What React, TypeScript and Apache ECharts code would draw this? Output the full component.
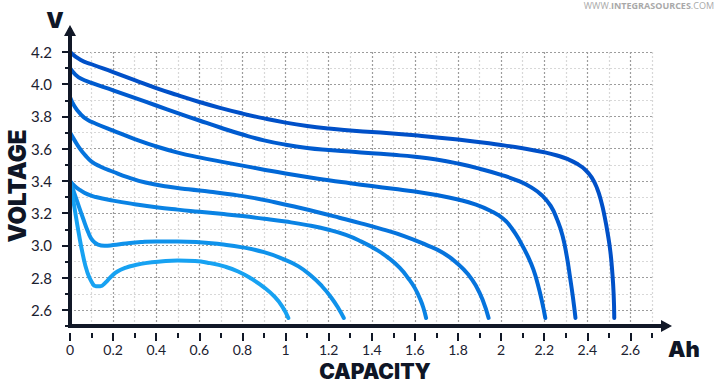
import React, { useEffect, useRef } from "react";
import * as echarts from "echarts";

const xMajorTicks = [0, 0.2, 0.4, 0.6, 0.8, 1, 1.2, 1.4, 1.6, 1.8, 2, 2.2, 2.4, 2.6];
const yMajorTicks = [2.6, 2.8, 3.0, 3.2, 3.4, 3.6, 3.8, 4.0, 4.2];

const curve1 = [[0, 4.2], [0.05, 4.15], [0.1, 4.124], [0.2, 4.075], [0.3, 4.025], [0.4, 3.976], [0.5, 3.932], [0.6, 3.89], [0.7, 3.852], [0.8, 3.818], [0.9, 3.788], [1.0, 3.762], [1.1, 3.741], [1.2, 3.725], [1.3, 3.713], [1.4, 3.703], [1.6, 3.683], [1.8, 3.657], [2.0, 3.623], [2.1, 3.603], [2.2, 3.578], [2.26, 3.558], [2.31, 3.535], [2.35, 3.508], [2.39, 3.47], [2.42, 3.422], [2.445, 3.355], [2.465, 3.27], [2.48, 3.18], [2.495, 3.07], [2.507, 2.96], [2.516, 2.83], [2.522, 2.7], [2.525, 2.55]];
const curve2 = [[0, 4.1], [0.025, 4.06], [0.05, 4.035], [0.1, 4.008], [0.2, 3.962], [0.3, 3.915], [0.4, 3.868], [0.5, 3.821], [0.6, 3.775], [0.7, 3.73], [0.8, 3.688], [0.9, 3.652], [1.0, 3.625], [1.1, 3.605], [1.2, 3.592], [1.3, 3.582], [1.4, 3.572], [1.5, 3.562], [1.6, 3.55], [1.7, 3.533], [1.8, 3.508], [1.9, 3.476], [2.0, 3.438], [2.08, 3.4], [2.14, 3.36], [2.19, 3.31], [2.23, 3.245], [2.26, 3.16], [2.285, 3.06], [2.305, 2.93], [2.32, 2.8], [2.333, 2.68], [2.345, 2.55]];
const curve3 = [[0, 3.92], [0.02, 3.865], [0.045, 3.82], [0.08, 3.78], [0.12, 3.755], [0.2, 3.712], [0.3, 3.66], [0.4, 3.614], [0.5, 3.576], [0.6, 3.546], [0.7, 3.52], [0.8, 3.495], [0.9, 3.47], [1.0, 3.446], [1.1, 3.424], [1.2, 3.404], [1.3, 3.386], [1.4, 3.368], [1.5, 3.351], [1.6, 3.335], [1.7, 3.313], [1.8, 3.285], [1.88, 3.255], [1.95, 3.215], [2.01, 3.165], [2.05, 3.105], [2.09, 3.02], [2.125, 2.93], [2.15, 2.85], [2.17, 2.76], [2.19, 2.65], [2.205, 2.55]];
const curve4 = [[0, 3.7], [0.02, 3.655], [0.045, 3.602], [0.07, 3.56], [0.1, 3.52], [0.14, 3.49], [0.2, 3.457], [0.27, 3.422], [0.35, 3.39], [0.45, 3.365], [0.55, 3.348], [0.65, 3.333], [0.75, 3.316], [0.85, 3.295], [0.95, 3.268], [1.05, 3.238], [1.15, 3.206], [1.25, 3.172], [1.35, 3.137], [1.45, 3.1], [1.55, 3.058], [1.65, 3.005], [1.73, 2.955], [1.8, 2.885], [1.85, 2.815], [1.885, 2.745], [1.915, 2.66], [1.942, 2.55]];
const curve5 = [[0, 3.4], [0.02, 3.37], [0.045, 3.345], [0.08, 3.318], [0.12, 3.3], [0.2, 3.278], [0.3, 3.256], [0.4, 3.237], [0.5, 3.222], [0.6, 3.209], [0.7, 3.196], [0.8, 3.182], [0.9, 3.166], [1.0, 3.148], [1.1, 3.126], [1.2, 3.097], [1.28, 3.065], [1.35, 3.025], [1.42, 2.975], [1.48, 2.92], [1.53, 2.86], [1.57, 2.795], [1.6, 2.735], [1.625, 2.665], [1.64, 2.61], [1.652, 2.55]];
const curve6 = [[0, 3.4], [0.03, 3.285], [0.06, 3.17], [0.085, 3.08], [0.105, 3.03], [0.13, 3.005], [0.16, 2.998], [0.2, 3.002], [0.26, 3.012], [0.33, 3.021], [0.4, 3.025], [0.5, 3.025], [0.6, 3.02], [0.7, 3.007], [0.8, 2.988], [0.9, 2.958], [0.99, 2.915], [1.06, 2.87], [1.12, 2.81], [1.17, 2.745], [1.21, 2.68], [1.245, 2.61], [1.27, 2.55]];
const curve7 = [[0, 3.4], [0.02, 3.24], [0.04, 3.08], [0.06, 2.94], [0.08, 2.835], [0.1, 2.775], [0.12, 2.747], [0.14, 2.747], [0.165, 2.77], [0.19, 2.805], [0.22, 2.838], [0.26, 2.862], [0.3, 2.877], [0.35, 2.89], [0.42, 2.9], [0.5, 2.906], [0.58, 2.903], [0.65, 2.89], [0.72, 2.868], [0.78, 2.838], [0.84, 2.795], [0.9, 2.74], [0.95, 2.68], [0.985, 2.62], [1.013, 2.55]];

const curves = [curve1, curve2, curve3, curve4, curve5, curve6, curve7];
const curveColors = ["#0050c8", "#005bcf", "#0067d6", "#0674dd", "#0a83e4", "#0f92eb", "#17a2f2"];

const AXIS_COLOR = "#111827";
const GRID_MAJOR = "#9c9c9c";
const GRID_MINOR = "#d8d8d8";
const LABEL_FONT = "Lato";
const TITLE_FONT = "Inter";

export default function App() {
  const ref = useRef<HTMLDivElement>(null);

  useEffect(() => {
    if (!ref.current) return;
    const chart = echarts.init(ref.current, undefined, { renderer: "svg" });

    const dashed = { type: [2, 2] as any, width: 1.2 };
    const titleStyle = { fontFamily: TITLE_FONT, fontWeight: 900, fill: "#0f1626", textAlign: "center", textVerticalAlign: "middle" };

    const option: any = {
      animation: false,
      backgroundColor: "#ffffff",
      grid: [
        { left: 70, top: 52, width: 582, height: 274 },
        { left: 70, top: 30.5, width: 596.5, height: 295.5 },
      ],
      xAxis: [
        {
          type: "value", gridIndex: 0, min: 0, max: 2.7, interval: 0.1,
          position: "bottom", offset: 7,
          axisLine: { show: false },
          axisTick: { show: true, length: 5, lineStyle: { color: AXIS_COLOR, width: 2 } },
          axisLabel: { show: false },
          splitLine: { show: true, lineStyle: { ...dashed, color: [GRID_MAJOR, GRID_MINOR] } },
        },
        {
          type: "value", gridIndex: 0, min: 0, max: 2.7,
          position: "bottom", offset: 7,
          axisLine: { show: false },
          axisTick: { show: true, length: 8, customValues: xMajorTicks, lineStyle: { color: AXIS_COLOR, width: 2 } },
          axisLabel: {
            show: true, customValues: xMajorTicks, margin: 9,
            fontFamily: LABEL_FONT, fontSize: 14, color: "#1b2130",
            formatter: (v: number) => String(Math.round(v * 10) / 10),
          },
          splitLine: { show: false },
        },
        {
          type: "value", gridIndex: 1, min: 0, max: 1, z: 10,
          axisLine: { show: true, symbol: ["none", "triangle"], symbolSize: [12, 11], lineStyle: { color: AXIS_COLOR, width: 4, cap: "square" } },
          axisTick: { show: false }, axisLabel: { show: false }, splitLine: { show: false },
        },
      ],
      yAxis: [
        {
          type: "value", gridIndex: 0, min: 2.5, max: 4.2, interval: 0.1,
          position: "left", offset: 6,
          axisLine: { show: false },
          axisTick: { show: true, length: 5, lineStyle: { color: AXIS_COLOR, width: 2 } },
          axisLabel: { show: false },
          splitLine: { show: true, lineStyle: { ...dashed, color: [GRID_MINOR, GRID_MAJOR] } },
        },
        {
          type: "value", gridIndex: 0, min: 2.5, max: 4.2,
          position: "left", offset: 6,
          axisLine: { show: false },
          axisTick: { show: true, length: 8, customValues: yMajorTicks, lineStyle: { color: AXIS_COLOR, width: 2 } },
          axisLabel: {
            show: true, customValues: yMajorTicks, margin: 12,
            fontFamily: LABEL_FONT, fontSize: 15, color: "#1b2130",
            formatter: (v: number) => v.toFixed(1),
          },
          splitLine: { show: false },
        },
        {
          type: "value", gridIndex: 1, min: 0, max: 1, z: 10,
          axisLine: { show: true, symbol: ["none", "triangle"], symbolSize: [12, 11], lineStyle: { color: AXIS_COLOR, width: 4, cap: "square" } },
          axisTick: { show: false }, axisLabel: { show: false }, splitLine: { show: false },
        },
      ],
      series: curves.map((data, i) => ({
        type: "line",
        xAxisIndex: 0,
        yAxisIndex: 0,
        data,
        smooth: 0.5,
        showSymbol: false,
        symbol: "none",
        z: 3,
        lineStyle: { color: curveColors[i], width: 4, cap: "round", join: "round" },
        silent: true,
      })),
      graphic: [
        { type: "text", x: 55, y: 20, style: { ...titleStyle, text: "V", fontSize: 22, lineHeight: 22 } },
        { type: "text", x: 684, y: 349, style: { ...titleStyle, text: "Ah", fontSize: 22, lineHeight: 22 } },
        { type: "text", x: 375, y: 371, style: { ...titleStyle, text: "CAPACITY", fontSize: 21, lineHeight: 20 } },
        { type: "text", x: 17, y: 186, rotation: Math.PI / 2, style: { ...titleStyle, text: "VOLTAGE", fontSize: 24, lineHeight: 24 } },
        {
          type: "text", x: 714, y: 5,
          style: {
            text: "{a|WWW.}{b|INTEGRASOURCES}{a|.COM}",
            textAlign: "right", textVerticalAlign: "middle",
            rich: {
              a: { fontFamily: "Open Sans", fontSize: 9, fill: "#a9a9a9", fontWeight: 400 },
              b: { fontFamily: "Open Sans", fontSize: 9, fill: "#a9a9a9", fontWeight: 700 },
            },
          },
        },
      ],
    };

    chart.setOption(option);
    return () => chart.dispose();
  }, []);

  return (
    <div
      ref={ref}
      style={{ position: "absolute", left: 0, top: 0, width: 725, height: 384, background: "#fff" }}
    />
  );
}
